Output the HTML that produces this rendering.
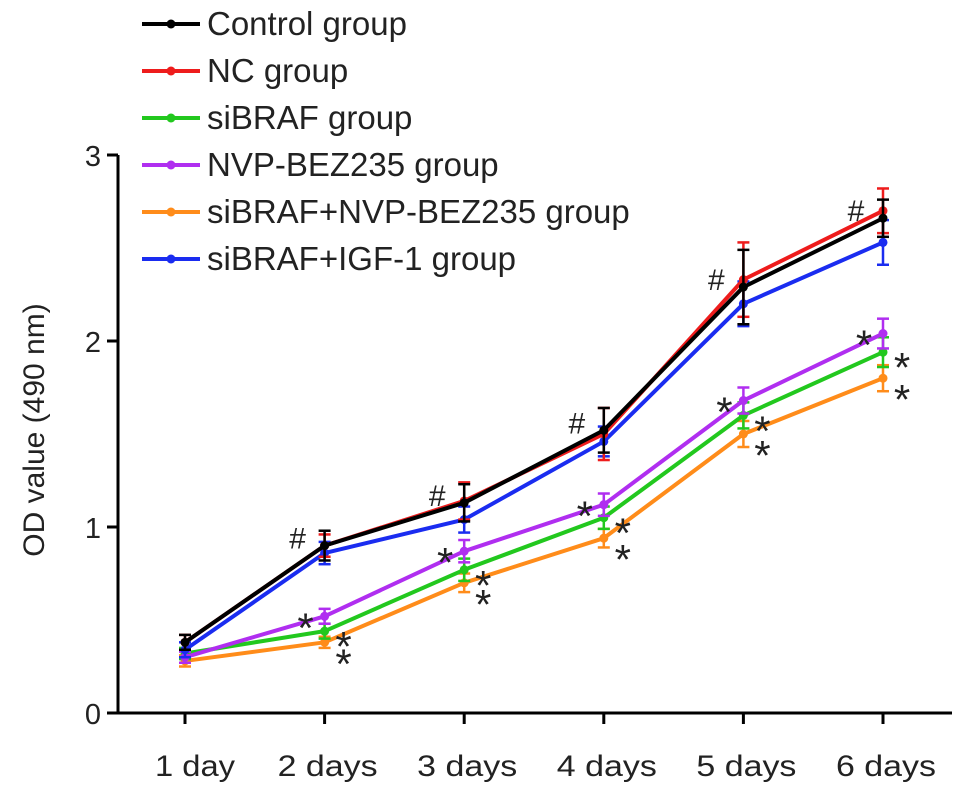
<!DOCTYPE html>
<html><head><meta charset="utf-8"><style>
html,body{margin:0;padding:0;background:#fff}
svg{display:block;font-family:"Liberation Sans",Arial,sans-serif}
</style></head><body>
<svg id="chart" width="969" height="794" viewBox="0 0 969 794" xmlns="http://www.w3.org/2000/svg"></svg>
<script>
const categories=["1 day","2 days","3 days","4 days","5 days","6 days"];
const seriesNames=["Control group","NC group","siBRAF group","NVP-BEZ235 group","siBRAF+NVP-BEZ235 group","siBRAF+IGF-1 group"];
const seriesColors=["#000000","#ee1c1c","#22c81e","#b02ef0","#ff8c1a","#1a2cf0"];
const controlVals=[0.38,0.90,1.13,1.52,2.29,2.66];
const ncVals=[0.38,0.90,1.14,1.50,2.33,2.70];
const sibrafVals=[0.32,0.44,0.77,1.05,1.60,1.94];
const nvpVals=[0.30,0.52,0.87,1.12,1.68,2.04];
const comboVals=[0.28,0.38,0.70,0.94,1.50,1.80];
const igfVals=[0.34,0.86,1.04,1.46,2.20,2.53];
const controlErr=[0.04,0.08,0.10,0.12,0.20,0.10];
const ncErr=[0.04,0.06,0.10,0.14,0.20,0.12];
const sibrafErr=[0.03,0.04,0.06,0.06,0.07,0.08];
const nvpErr=[0.03,0.04,0.06,0.06,0.07,0.08];
const comboErr=[0.03,0.03,0.05,0.05,0.07,0.07];
const igfErr=[0.04,0.06,0.07,0.08,0.12,0.12];
const yTicks=[0,1,2,3];
const drawOrder=[4,2,3,5,1,0];
const allVals=[controlVals,ncVals,sibrafVals,nvpVals,comboVals,igfVals];
const allErr=[controlErr,ncErr,sibrafErr,nvpErr,comboErr,igfErr];

const NS="http://www.w3.org/2000/svg";
const svg=document.getElementById('chart');
const x0=185,dx=139.6,y0=713,yTop=155,yMax=3;
const xs=i=>x0+i*dx;
const ys=v=>y0-(v/yMax)*(y0-yTop);
function mk(t,a,p){const e=document.createElementNS(NS,t);for(const k in a)e.setAttribute(k,a[k]);(p||svg).appendChild(e);return e;}

const ax=mk('line',{x1:118,y1:yTop,x2:118,y2:y0+1.5,stroke:'#000','stroke-width':3});


const bx=mk('line',{x1:116.5,y1:y0,x2:952,y2:y0,stroke:'#000','stroke-width':3});


yTicks.forEach(v=>{
 const t=mk('line',{x1:107,y1:ys(v),x2:118,y2:ys(v),stroke:'#000','stroke-width':3});
 
 
 const l=mk('text',{x:101,y:ys(v)+11,'text-anchor':'end','font-size':29,fill:'#222'});
 l.textContent=v;
 
 
});
categories.forEach((c,i)=>{
 const t=mk('line',{x1:xs(i),y1:y0,x2:xs(i),y2:y0+11,stroke:'#000','stroke-width':3});
 
 
 const l=mk('text',{x:xs(i)+(i===0?10:3),y:776,'text-anchor':'middle','font-size':30,fill:'#222',textLength:c.length>5?100:80,lengthAdjust:'spacingAndGlyphs'});
 l.textContent=c;
 
 
});
const yt=mk('text',{x:0,y:0,transform:'translate(44,430) rotate(-90)','text-anchor':'middle','font-size':30,fill:'#222'});
yt.textContent='OD value (490 nm)';



drawOrder.forEach(s=>{
 const g=mk('g',{});
 
 
 const col=seriesColors[s],vals=allVals[s],err=allErr[s];
 vals.forEach((v,i)=>{
  const e=err[i];
  mk('line',{x1:xs(i),y1:ys(v-e),x2:xs(i),y2:ys(v+e),stroke:col,'stroke-width':2.5},g);
  mk('line',{x1:xs(i)-6,y1:ys(v-e),x2:xs(i)+6,y2:ys(v-e),stroke:col,'stroke-width':2.5},g);
  mk('line',{x1:xs(i)-6,y1:ys(v+e),x2:xs(i)+6,y2:ys(v+e),stroke:col,'stroke-width':2.5},g);
 });
 const pl=mk('polyline',{points:vals.map((v,i)=>xs(i)+','+ys(v)).join(' '),fill:'none',stroke:col,'stroke-width':4,'stroke-linejoin':'round'},g);
 
 
 vals.forEach((v,i)=>{
  const c=mk('circle',{cx:xs(i),cy:ys(v),r:4.5,fill:col},g);
  
  
 });
});

for(let i=1;i<categories.length;i++){
 const h=mk('text',{x:xs(i)-27,y:ys(controlVals[i])+3,'font-size':30,fill:'#222','text-anchor':'middle'});
 h.textContent='#';
 
 
 [[nvpVals,-19,26],[sibrafVals,19,30],[comboVals,19,36]].forEach(([arr,off,dy])=>{
  const a=mk('text',{x:xs(i)+off,y:ys(arr[i])+dy,'font-size':42,fill:'#222','text-anchor':'middle'});
  a.textContent='*';
  
  
 });
}

seriesNames.forEach((n,k)=>{
 const y=24+k*47;
 const g=mk('g',{});
 
 
 mk('line',{x1:142,y1:y,x2:200,y2:y,stroke:seriesColors[k],'stroke-width':4},g);
 mk('circle',{cx:171,cy:y,r:4.5,fill:seriesColors[k]},g);
 const t=mk('text',{x:207,y:y+11,'font-size':33,fill:'#222'},g);
 t.textContent=n;
});
</script>
</body></html>
